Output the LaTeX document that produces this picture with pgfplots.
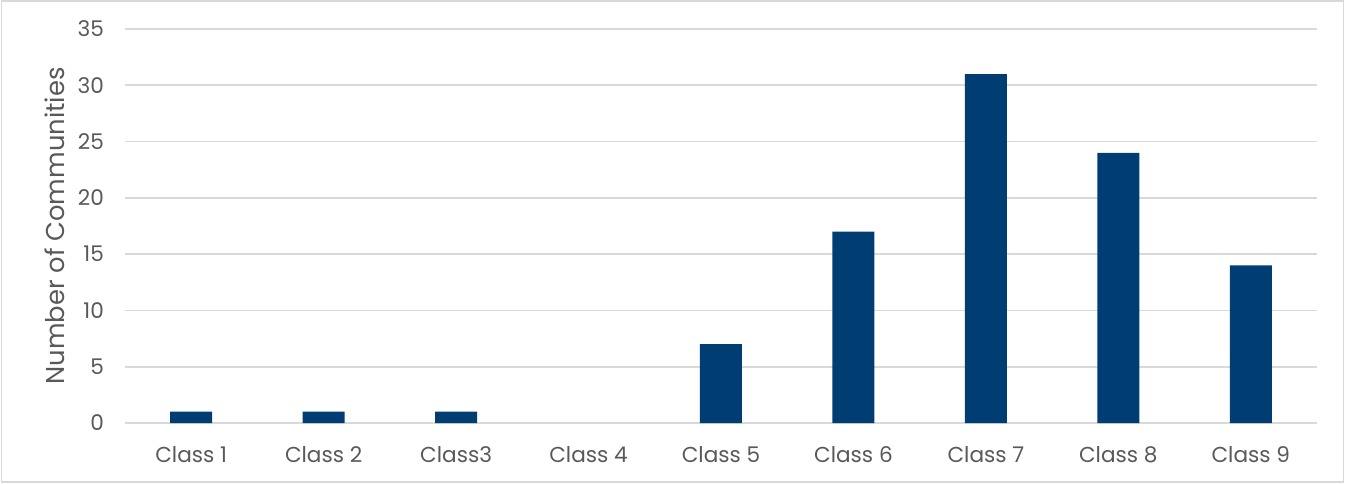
\documentclass[border=0pt]{standalone}
\usepackage{pgfplots}
\pgfplotsset{compat=1.18}
\usepackage{fontspec}
\setmainfont{Poppins}
\definecolor{barblue}{HTML}{003D73}
\definecolor{gridgray}{HTML}{D9D9D9}
\definecolor{txtgray}{HTML}{595959}
\begin{document}
\begin{tikzpicture}
\useasboundingbox (0,0) rectangle (672.5pt,241.5pt);
\draw[gridgray, line width=0.8pt] (0.8pt,0.6pt) rectangle (671.7pt,241pt);
\begin{axis}[
  at={(62.5pt,30pt)}, anchor=south west,
  scale only axis, width=596pt, height=197pt,
  ybar, bar width=21pt,
  xmin=-0.5, xmax=8.5, ymin=0, ymax=35,
  xtick={0,...,8},
  xticklabels={Class 1,Class 2,Class3,Class 4,Class 5,Class 6,Class 7,Class 8,Class 9},
  ytick={0,5,...,35},
  ymajorgrids, grid style={gridgray, line width=0.8pt},
  axis x line*=bottom, axis y line*=left,
  x axis line style={gridgray, line width=0.8pt, -},
  y axis line style={draw=none},
  major tick length=0pt,
  tick label style={font=\fontsize{10.8}{12}\selectfont, text=txtgray},
  /pgf/number format/assume math mode=true,
  yticklabel style={xshift=-7pt},
  xticklabel style={yshift=-8pt},
  ylabel={Number of Communities},
  ylabel style={font=\fontsize{12.9}{14}\selectfont, text=txtgray, at={(axis description cs:-0.059,0.5)}, anchor=center},
  clip=false,
]
\addplot[fill=barblue, draw=none] coordinates {(0,1) (1,1) (2,1) (3,nan) (4,7) (5,17) (6,31) (7,24) (8,14)};
\end{axis}
\end{tikzpicture}
\end{document}
